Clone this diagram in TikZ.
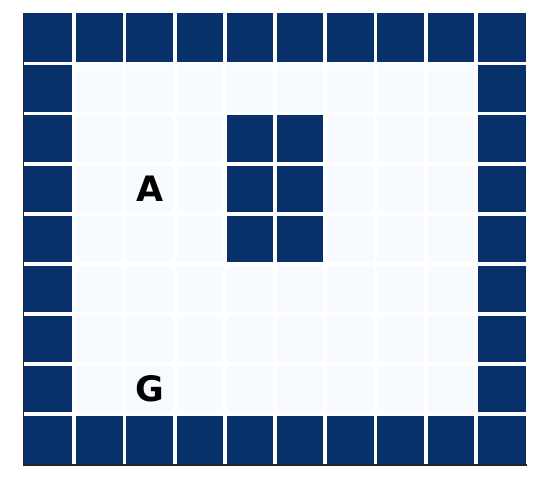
\documentclass[tikz,border=0pt]{standalone}
\usepackage{fontspec}
\newfontfamily\labelfont{DejaVu Sans}
\definecolor{wallblue}{HTML}{08306B}
\definecolor{freeblue}{HTML}{F7FBFF}
\definecolor{spinegray}{HTML}{262626}
\tikzset{
  cellbox/.style={rectangle, draw=none, minimum width=50.18pt, minimum height=50.09pt, inner sep=0pt, outer sep=0pt},
  wall/.style={cellbox, fill=wallblue},
  free/.style={cellbox, fill=freeblue},
  gridline/.style={draw=white, line width=3.8pt},
  marker/.style={font=\labelfont\bfseries\fontsize{35}{35}\selectfont, text=black, inner sep=0pt},
  spine/.style={draw=spinegray, line width=1.6pt}
}
\begin{document}
\begin{tikzpicture}[x=1pt,y=-1pt]
\useasboundingbox (0,0) rectangle (540,489);
\foreach \r in {0,...,8}{
  \foreach \c in {0,...,9}{
    \pgfmathtruncatemacro{\isborder}{(\r==0)||(\r==8)||(\c==0)||(\c==9)||((\c==4)&&(\r>=2)&&(\r<=4))||((\c==5)&&(\r>=2)&&(\r<=4))}
    \ifnum\isborder=1
      \node[wall] (c-\r-\c) at ({24.2+(\c+0.5)*50.18},{13.4+(\r+0.5)*50.09}) {};
    \else
      \node[free] (c-\r-\c) at ({24.2+(\c+0.5)*50.18},{13.4+(\r+0.5)*50.09}) {};
    \fi
  }
}
\foreach \c in {1,...,9}{
  \draw[gridline] (c-0-\c.north west) -- (c-8-\c.south west);
}
\foreach \r in {1,...,8}{
  \draw[gridline] (c-\r-0.north west) -- (c-\r-9.north east);
}
\node[marker] (A) at (c-3-2.center) {A};
\node[marker] (G) at (c-7-2.center) {G};
\coordinate (tl) at (23.6,13.4);
\coordinate (bl) at (23.6,465);
\coordinate (bs) at (22.8,465);
\coordinate (br) at (526.7,465);
\draw[spine] (tl) -- (bl);
\draw[spine] (bs) -- (br);
\end{tikzpicture}
\end{document}
